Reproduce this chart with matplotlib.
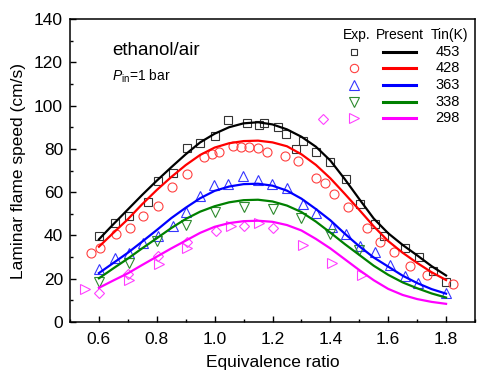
import numpy as np
import matplotlib
matplotlib.use("Agg")
from matplotlib import pyplot as plt
from matplotlib.ticker import MultipleLocator

plt.rcParams["font.family"] = ["Liberation Sans", "DejaVu Sans"]
plt.rcParams["mathtext.fontset"] = "custom"
plt.rcParams["mathtext.rm"] = "Liberation Sans"
plt.rcParams["mathtext.it"] = "Liberation Sans:italic"

# Experimental points
exp_453_x = [0.60, 0.654, 0.703, 0.771, 0.803, 0.855, 0.903, 0.95, 1.001, 1.047, 1.112, 1.153, 1.17, 1.219,
             1.248, 1.281, 1.304, 1.351, 1.399, 1.453, 1.502, 1.554, 1.586, 1.657, 1.705, 1.754, 1.80]
exp_453_y = [39.9, 45.6, 49.1, 55.3, 65.3, 69.0, 80.3, 82.9, 86.0, 93.3, 91.8, 91.0, 91.8, 90.0,
             86.9, 79.8, 83.8, 78.7, 74.1, 65.9, 54.5, 45.3, 39.9, 34.1, 29.9, 23.7, 18.6]

exp_428_x = [0.574, 0.605, 0.66, 0.708, 0.754, 0.803, 0.852, 0.903, 0.963, 0.992, 1.015, 1.064, 1.092, 1.118,
             1.15, 1.181, 1.242, 1.288, 1.35, 1.38, 1.413, 1.462, 1.525, 1.573, 1.62, 1.674, 1.735, 1.823]
exp_428_y = [31.7, 34.1, 40.5, 43.6, 49.1, 53.6, 62.2, 68.4, 76.1, 77.6, 78.7, 81.3, 80.7, 81.0,
             80.6, 78.4, 76.9, 74.5, 66.4, 64.1, 59.1, 53.3, 43.6, 37.1, 32.2, 25.9, 21.7, 17.4]

exp_363_x = [0.60, 0.654, 0.703, 0.754, 0.803, 0.855, 0.90, 0.95, 0.998, 1.047, 1.099, 1.149, 1.198, 1.25,
             1.304, 1.35, 1.405, 1.453, 1.502, 1.554, 1.605, 1.657, 1.703, 1.80]
exp_363_y = [24.3, 29.4, 32.0, 36.4, 39.7, 44.5, 50.7, 58.2, 63.3, 63.6, 67.5, 65.6, 63.6, 61.8,
             54.5, 50.5, 44.0, 40.5, 35.3, 32.5, 26.3, 21.4, 17.9, 13.5]

exp_338_x = [0.60, 0.703, 0.80, 0.90, 1.0, 1.1, 1.2, 1.3, 1.4, 1.5]
exp_338_y = [18.5, 27.1, 37.3, 45.0, 51.0, 53.0, 52.2, 48.2, 40.6, 33.2]

exp_298_diam_x = [0.60, 0.70, 0.803, 0.906, 1.004, 1.10, 1.20, 1.373]
exp_298_diam_y = [13.6, 22.3, 30.5, 37.1, 42.1, 44.2, 43.6, 93.7]
exp_298_tri_x = [0.551, 0.705, 0.809, 0.906, 1.055, 1.153, 1.305, 1.405, 1.508]
exp_298_tri_y = [15.1, 19.3, 26.8, 34.1, 44.2, 45.8, 35.7, 27.4, 21.5]

# Present model curves (read every 0.05)
phi = [0.60, 0.65, 0.70, 0.75, 0.80, 0.85, 0.90, 0.95, 1.00, 1.05, 1.10, 1.15, 1.20,
       1.25, 1.30, 1.35, 1.40, 1.45, 1.50, 1.55, 1.60, 1.65, 1.70, 1.75, 1.80]
sim_453 = [38.2, 45.2, 52.0, 58.8, 65.3, 71.5, 77.5, 83.0, 87.0, 90.0, 91.8, 92.3, 91.3,
           89.0, 85.6, 81.0, 74.6, 66.0, 56.8, 47.8, 41.0, 35.6, 30.8, 25.8, 21.5]
sim_428 = [34.8, 41.2, 47.5, 54.5, 61.0, 67.0, 72.5, 77.2, 80.6, 82.6, 83.6, 83.8, 83.0,
           81.2, 77.5, 72.6, 66.4, 59.2, 51.8, 44.2, 37.4, 32.0, 27.3, 23.0, 19.4]
sim_363 = [22.6, 27.3, 32.0, 37.2, 42.5, 48.0, 52.8, 57.2, 60.6, 62.6, 63.7, 63.9, 63.0,
           60.7, 57.0, 52.2, 47.0, 40.8, 35.0, 29.8, 25.6, 21.4, 18.0, 15.2, 13.1]
sim_338 = [20.2, 24.8, 29.3, 34.1, 38.7, 43.4, 47.6, 51.0, 53.5, 55.3, 56.3, 56.5, 55.7,
           53.8, 50.8, 46.4, 41.3, 36.0, 31.0, 26.0, 21.8, 18.3, 15.6, 13.2, 11.3]
sim_298 = [15.8, 19.2, 22.5, 26.4, 30.2, 34.0, 37.6, 41.2, 44.0, 45.7, 46.6, 46.8, 46.3,
           44.8, 42.3, 38.4, 34.0, 29.0, 24.0, 19.3, 15.3, 12.5, 10.6, 9.3, 8.4]

temps = ["453", "428", "363", "338", "298"]
line_colors = ["#000000", "#ff0000", "#0000ff", "#008000", "#ff00ff"]
marker_colors = ["#333333", "#ff4040", "#3535ff", "#2e8b2e", "#ff40ff"]

fig = plt.figure(figsize=(5, 3.85), dpi=100)
ax = fig.add_axes([0.14, 0.1636, 0.81, 0.787])

ms = 6.5
mew = 0.8
ax.plot(exp_453_x, exp_453_y, "s", ms=6, mfc="none", mec=marker_colors[0], mew=mew)
ax.plot(exp_428_x, exp_428_y, "o", ms=ms, mfc="none", mec=marker_colors[1], mew=mew)
ax.plot(exp_363_x, exp_363_y, "^", ms=7.5, mfc="none", mec=marker_colors[2], mew=mew)
ax.plot(exp_338_x, exp_338_y, "v", ms=7.5, mfc="none", mec=marker_colors[3], mew=mew)
ax.plot(exp_298_diam_x, exp_298_diam_y, "D", ms=5.5, mfc="none", mec=marker_colors[4], mew=mew)
ax.plot(exp_298_tri_x, exp_298_tri_y, ">", ms=7.5, mfc="none", mec=marker_colors[4], mew=mew)

for sim, c in zip([sim_453, sim_428, sim_363, sim_338, sim_298], line_colors):
    ax.plot(phi, sim, "-", color=c, lw=1.6)

ax.set_xlim(0.5, 1.9)
ax.set_ylim(0, 140)
ax.xaxis.set_major_locator(MultipleLocator(0.2))
ax.xaxis.set_minor_locator(MultipleLocator(0.1))
ax.yaxis.set_major_locator(MultipleLocator(20))
ax.yaxis.set_minor_locator(MultipleLocator(10))
ax.set_xticks(np.arange(0.6, 1.81, 0.2))
ax.tick_params(which="both", direction="in", top=False, right=False, labelsize=12.5, width=1.0)
ax.tick_params(which="major", length=4.5)
ax.tick_params(which="minor", length=2.5)
ax.tick_params(axis="x", pad=7)
ax.tick_params(axis="y", pad=5)
for s in ax.spines.values():
    s.set_linewidth(1.1)

ax.set_xlabel("Equivalence ratio", fontsize=12.5, labelpad=6)
ax.set_ylabel("Laminar flame speed (cm/s)", fontsize=12.5, labelpad=6)

ax.text(0.104, 0.895, "ethanol/air", transform=ax.transAxes, fontsize=13.5, va="center")
ax.text(0.104, 0.812, r"$P_{\rm in}$=1 bar", transform=ax.transAxes, fontsize=10, va="center")

# hand-made legend
ax.text(0.707, 0.947, "Exp.", transform=ax.transAxes, fontsize=10, ha="center", va="center")
ax.text(0.815, 0.947, "Present", transform=ax.transAxes, fontsize=10, ha="center", va="center")
ax.text(0.938, 0.947, "Tin(K)", transform=ax.transAxes, fontsize=10, ha="center", va="center")
leg_markers = ["s", "o", "^", "v", ">"]
leg_ms = [5, 6, 7, 7, 7]
for i, t in enumerate(temps):
    yy = 0.892 - i * 0.055
    ax.plot([0.702], [yy], leg_markers[i], ms=leg_ms[i], mfc="none", mec=marker_colors[i], mew=mew,
            transform=ax.transAxes)
    ax.plot([0.773, 0.854], [yy, yy], "-", color=line_colors[i], lw=2.2, transform=ax.transAxes)
    ax.text(0.933, yy, t, transform=ax.transAxes, fontsize=10.5, ha="center", va="center")

fig.savefig("out.png", dpi=100)
